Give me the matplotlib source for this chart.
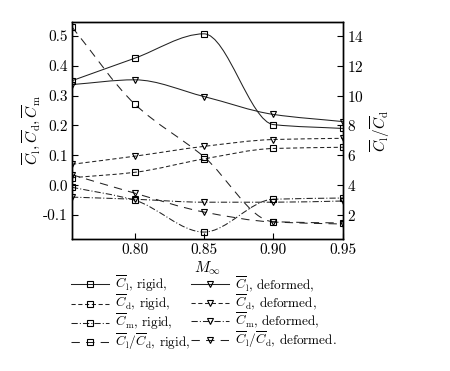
import numpy as np
import matplotlib
matplotlib.use('Agg')
import matplotlib.pyplot as plt
from matplotlib.path import Path
from matplotlib.patches import PathPatch
from matplotlib.lines import Line2D
from matplotlib.ticker import FormatStrFormatter

plt.rcParams['font.family'] = ['cmr10', 'DejaVu Serif']
plt.rcParams['mathtext.fontset'] = 'cm'
plt.rcParams['axes.formatter.use_mathtext'] = True
plt.rcParams['font.size'] = 10

# free-stream Mach number
mach = [0.755, 0.80, 0.85, 0.90, 0.95]

# left axis: coefficients
cl_rigid = [0.350, 0.425, 0.507, 0.203, 0.190]
cl_def = [0.337, 0.353, 0.297, 0.237, 0.213]
cd_rigid = [0.025, 0.043, 0.088, 0.123, 0.127]
cd_def = [0.070, 0.097, 0.130, 0.153, 0.157]
cm_rigid = [-0.007, -0.050, -0.157, -0.047, -0.043]
cm_def = [-0.040, -0.047, -0.057, -0.057, -0.053]

# right axis: lift / drag
clcd_rigid = [14.6, 9.45, 5.9, 1.55, 1.47]
clcd_def = [4.7, 3.47, 2.2, 1.53, 1.40]


def pchip_path( x, y ) :
	# smooth monotone curve through the points, as cubic bezier segments
	x = np.asarray( x, float )
	y = np.asarray( y, float )
	h = np.diff( x )
	delta = np.diff( y ) / h
	n = len( x )
	d = np.zeros( n )
	d[0] = delta[0]
	d[-1] = delta[-1]
	for k in range( 1, n - 1 ) :
		if delta[k-1] * delta[k] <= 0 :
			d[k] = 0
		else :
			w1 = 2 * h[k] + h[k-1]
			w2 = h[k] + 2 * h[k-1]
			d[k] = ( w1 + w2 ) / ( w1 / delta[k-1] + w2 / delta[k] )

	verts = [ ( x[0], y[0] ) ]
	codes = [ Path.MOVETO ]
	for k in range( n - 1 ) :
		verts.append( ( x[k] + h[k] / 3, y[k] + d[k] * h[k] / 3 ) )
		verts.append( ( x[k+1] - h[k] / 3, y[k+1] - d[k+1] * h[k] / 3 ) )
		verts.append( ( x[k+1], y[k+1] ) )
		codes += [ Path.CURVE4 ] * 3
	return Path( verts, codes )


fig = plt.figure( figsize = (4.5, 3.71), dpi = 100 )
ax = fig.add_axes( [0.16, 0.356, 0.602, 0.585] )
ax2 = ax.twinx()

lw = 0.75
col = '#222222'
ls_cl = '-'
ls_cd = (0, (4, 2.5))
ls_cm = (0, (6, 2, 1, 2))
ls_clcd = (0, (8, 6))

series = [
	( ax, cl_rigid, ls_cl, 's' ),
	( ax, cl_def, ls_cl, 'v' ),
	( ax, cd_rigid, ls_cd, 's' ),
	( ax, cd_def, ls_cd, 'v' ),
	( ax, cm_rigid, ls_cm, 's' ),
	( ax, cm_def, ls_cm, 'v' ),
	( ax2, clcd_rigid, ls_clcd, 's' ),
	( ax2, clcd_def, ls_clcd, 'v' ),
]

for a, vals, ls, mk in series :
	a.add_patch( PathPatch( pchip_path( mach, vals ), fill = False,
		edgecolor = col, lw = lw, linestyle = ls ) )
	a.plot( mach, vals, linestyle = 'none', marker = mk, ms = 5 if mk == 's' else 4.5,
		mfc = 'none', mec = 'k', mew = 0.8 )

ax.set_xlim( 0.755, 0.95 )
ax.set_ylim( -0.18, 0.547 )
ax2.set_ylim( 0.4, 14.94 )

ax.set_xticks( [0.80, 0.85, 0.90, 0.95] )
ax.xaxis.set_major_formatter( FormatStrFormatter( '%.2f' ) )
ax.set_yticks( [-0.1, 0.0, 0.1, 0.2, 0.3, 0.4, 0.5] )
ax.yaxis.set_major_formatter( FormatStrFormatter( '%.1f' ) )
ax2.set_yticks( [2, 4, 6, 8, 10, 12, 14] )

ax.tick_params( direction = 'in', length = 4, width = 0.8, labelsize = 11, pad = 3 )
ax2.tick_params( direction = 'in', length = 4, width = 0.8, labelsize = 11, pad = 3 )

for a in ( ax, ax2 ) :
	for s in a.spines.values() :
		s.set_linewidth( 1.0 )

ax.set_xlabel( r'$M_\infty$', fontsize = 11, labelpad = 2 )
ax.set_ylabel( r'$\overline{C}_\mathrm{l},\overline{C}_\mathrm{d},\overline{C}_\mathrm{m}$',
	fontsize = 11, labelpad = 1 )
ax2.set_ylabel( r'$\overline{C}_\mathrm{l}/\overline{C}_\mathrm{d}$', fontsize = 11, labelpad = 3 )

# legend rows: rigid | deformed
names = [ r'$\overline{C}_\mathrm{l}$', r'$\overline{C}_\mathrm{d}$',
	r'$\overline{C}_\mathrm{m}$', r'$\overline{C}_\mathrm{l}/\overline{C}_\mathrm{d}$' ]
styles = [ ls_cl, ls_cd, ls_cm, ls_clcd ]

handles = []
labels = []
for mk, tag in ( ( 's', 'rigid,' ), ( 'v', 'deformed,' ) ) :
	for i in range( 4 ) :
		handles.append( Line2D( [], [], color = col, lw = lw, linestyle = styles[i],
			marker = mk, ms = 5 if mk == 's' else 4.5, mfc = 'none', mec = 'k', mew = 0.8 ) )
		lab = names[i] + ', ' + tag
		if i == 3 and mk == 'v' :
			lab = names[i] + ', deformed.'
		labels.append( lab )

fig.legend( handles, labels, ncol = 2, loc = 'upper left',
	bbox_to_anchor = ( 0.158, 0.262 ), frameon = False, fontsize = 9.5,
	handlelength = 2.9, handletextpad = 0.4, columnspacing = 0.1,
	labelspacing = -0.08, borderpad = 0, borderaxespad = 0, numpoints = 1 )

fig.savefig( 'out.png', dpi = 100 )
